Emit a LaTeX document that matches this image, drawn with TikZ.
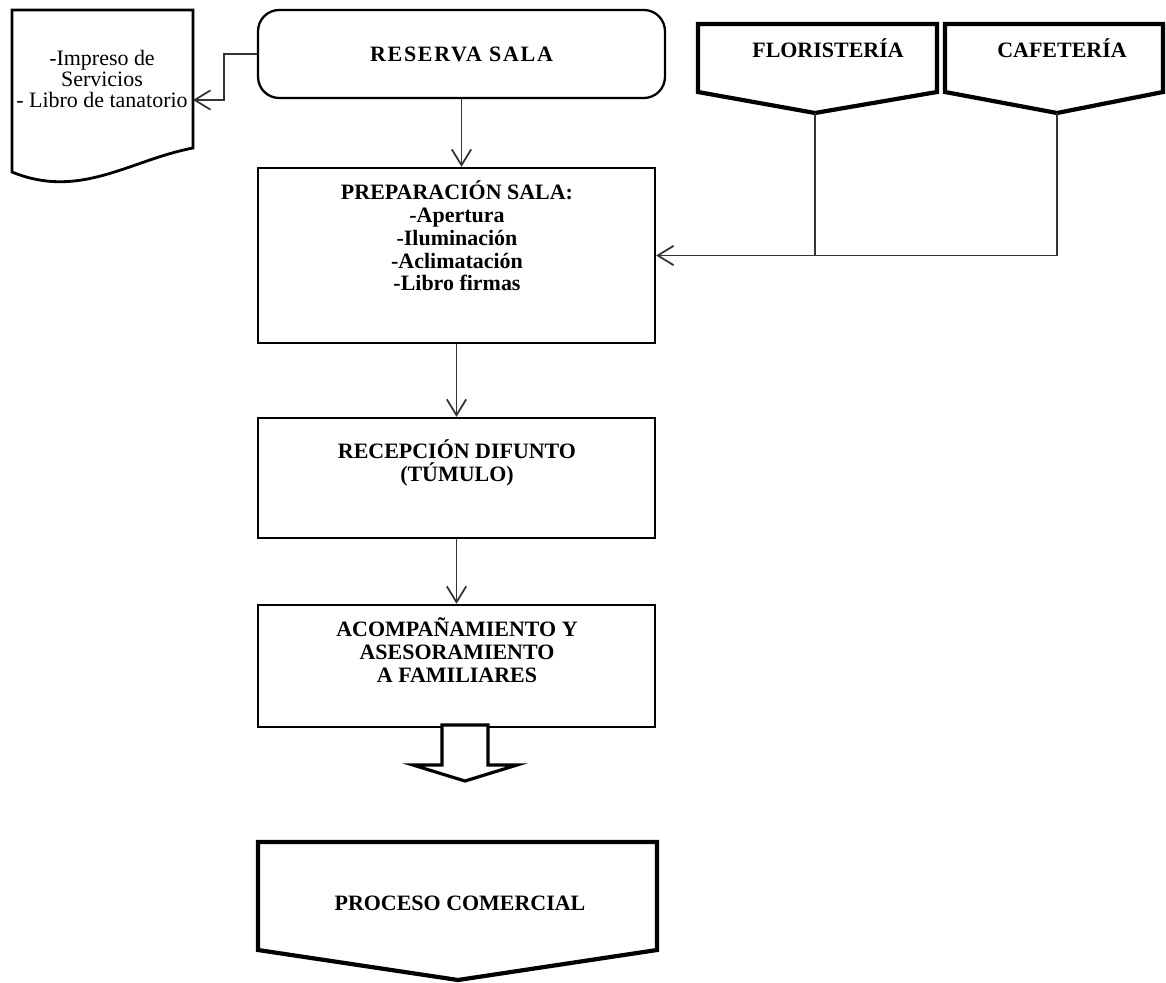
\documentclass[tikz,border=0pt]{standalone}
\usepackage{fontspec}
\setmainfont{Liberation Serif}
\usetikzlibrary{shapes,arrows.meta,positioning}

\begin{document}
\begin{tikzpicture}[x=0.02cm,y=-0.02cm,
	procbox/.style={draw,line width=1.3pt,minimum width=7.94cm},
	txt/.style={align=center,font=\bfseries\fontsize{12.5}{13}\selectfont},
	heavy/.style={line width=2.4pt,line join=miter},
	link/.style={line width=1pt,draw=black!80},
	>={Straight Barb[length=9pt,width=11pt]}]
	\useasboundingbox (0,0) rectangle (1166,983);

	\node[procbox,txt,rounded corners=12pt,minimum width=8.14cm,minimum height=1.76cm] (reserva) at (461.5,54) {\addfontfeature{LetterSpace=8}RESERVA SALA};
	\node[procbox,minimum height=3.5cm] (prep) at (456.5,255.5) {};
	\node[txt] (preptext) at (457,236) {PREPARACIÓN SALA:\\-Apertura\\-Iluminación\\-Aclimatación\\-Libro firmas};
	\node[procbox,minimum height=2.4cm] (recep) at (456.5,478) {};
	\node[txt] (receptext) at (457,463) {RECEPCIÓN DIFUNTO\\(TÚMULO)};
	\node[procbox,minimum height=2.44cm] (acomp) at (456.5,666) {};
	\node[txt] (acomptext) at (457,650) {ACOMPAÑAMIENTO Y\\ASESORAMIENTO\\A FAMILIARES};

	% documento
	\draw[line width=1.6pt] (12,10) -- (193,10) -- (193,148) .. controls (130,160) and (80,200) .. (12,172) -- cycle;
	\node[align=center,font=\fontsize{12.5}{12}\selectfont] (doc) at (102,79) {-Impreso de\\Servicios\\- Libro de tanatorio};
	\coordinate (docin) at (193,100);

	% floristeria y cafeteria
	\draw[heavy] (698,24) -- (937,24) -- (937,92) -- (815,113) -- (698,92) -- cycle;
	\node[txt] (flor) at (828,48) {FLORISTERÍA};
	\coordinate (florTip) at (815,113);
	\draw[heavy] (945,24) -- (1163,24) -- (1163,92) -- (1057,113) -- (945,92) -- cycle;
	\node[txt] (cafe) at (1062,48) {CAFETERÍA};
	\coordinate (cafeTip) at (1057,113);

	% flecha gruesa y proceso comercial
	\filldraw[heavy,line width=1.8pt,fill=white] (442,725) -- (442,765) -- (413,765) -- (465,781) -- (517,765) -- (488,765) -- (488,725) -- cycle;
	\draw[heavy] (258,842) -- (657,842) -- (657,950) -- (458,980) -- (258,950) -- cycle;
	\node[txt] (proceso) at (460,903) {PROCESO COMERCIAL};

	\draw[link,->] (reserva.west) -- ++(-33,0) |- (docin);
	\draw[link,->] (reserva.south) -- (reserva.south |- prep.north);
	\path[link,->] (prep) edge (recep);
	\path[link,->] (recep) edge (acomp);
	\draw[link,->] (cafeTip) |- (prep.east);
	\draw[link] (florTip) -- (florTip |- prep.east);
\end{tikzpicture}
\end{document}
